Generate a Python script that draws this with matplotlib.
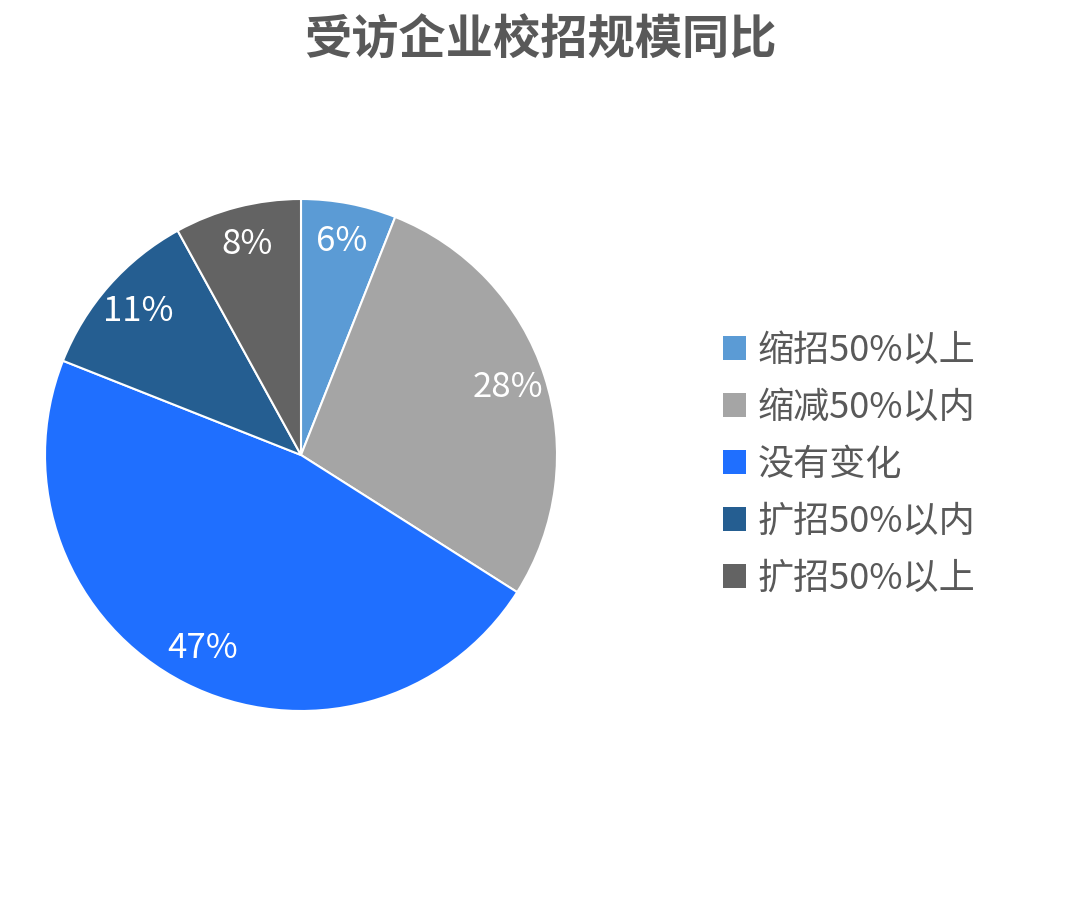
import matplotlib.pyplot as plt
from matplotlib.patches import Patch

plt.rcParams['font.family'] = ['Noto Sans CJK SC', 'DejaVu Sans']

# data
labels = ["缩招50%以上", "缩减50%以内", "没有变化", "扩招50%以内", "扩招50%以上"]
values = [6, 28, 47, 11, 8]
colors = ["#5B9BD5", "#A5A5A5", "#1F6FFF", "#255E91", "#636363"]

fig = plt.figure(figsize=(10.8, 9), dpi=100)
fig.patch.set_facecolor("white")

fig.text(0.5, 1 - 40 / 900, "受访企业校招规模同比", ha="center", va="center",
         fontsize=34, fontweight="bold", color="#595959")

ax = fig.add_axes([45 / 1080, 189 / 900, 512 / 1080, 512 / 900])
wedges, texts, autotexts = ax.pie(
    values, colors=colors, startangle=90, counterclock=False,
    autopct=lambda p: f"{p:.0f}%", pctdistance=0.85,
    wedgeprops=dict(edgecolor="white", linewidth=1.5),
    textprops=dict(color="white", fontsize=25))
ax.set_aspect("equal")
ax.set_xlim(-1, 1)
ax.set_ylim(-1, 1)

handles = [Patch(facecolor=c, edgecolor="none") for c in colors]
leg = fig.legend(handles, labels, loc="center left",
                 bbox_to_anchor=(690 / 1080, 1 - 465 / 900),
                 frameon=False, fontsize=26, handlelength=0.64, handleheight=0.64,
                 handletextpad=0.33, labelspacing=0.58)
for t in leg.get_texts():
    t.set_color("#595959")

plt.savefig("out.png", dpi=100, facecolor="white")
